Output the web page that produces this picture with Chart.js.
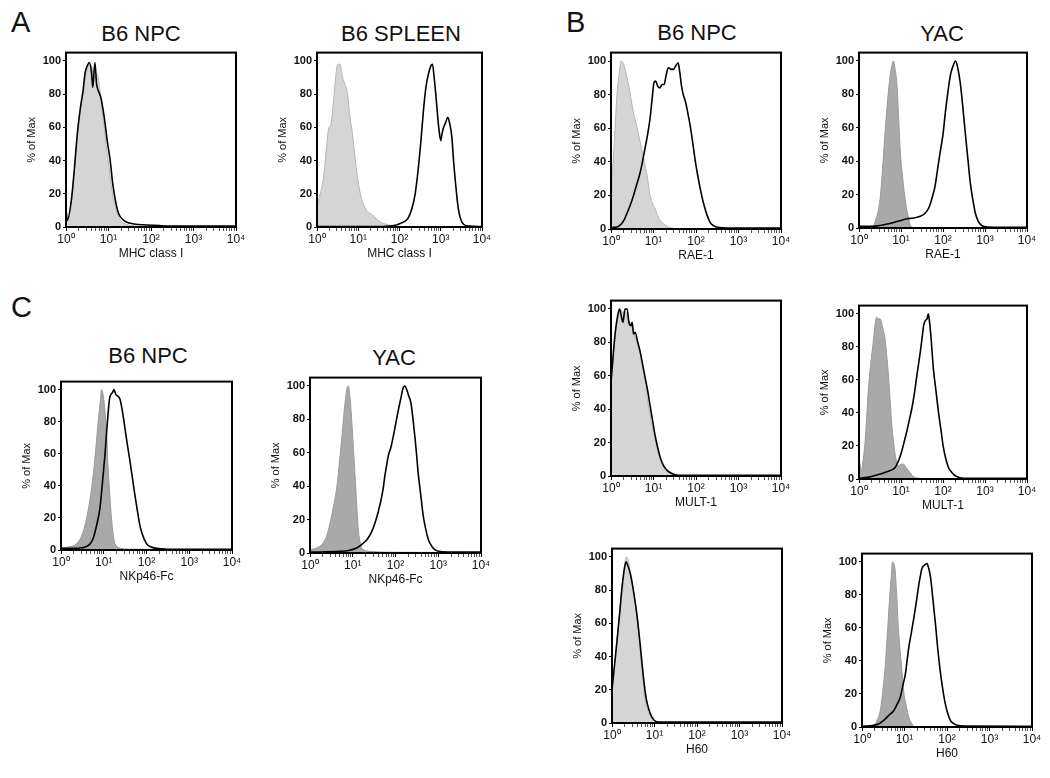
<!DOCTYPE html>
<html><head><meta charset="utf-8">
<script src="https://cdn.jsdelivr.net/npm/chart.js@4/dist/chart.umd.min.js"></script>
<style>
html,body{margin:0;padding:0;background:#fff}
body{width:1050px;height:778px;position:relative;overflow:hidden;font-family:'Liberation Sans',Arial,sans-serif}
.t{position:absolute;color:#111;white-space:nowrap;line-height:1}
canvas{position:absolute}
</style></head><body>
<script>
// ---- tick labels / axis text ----
const xTickDecades = [0, 1, 2, 3, 4];
const xTickLabels = ['10⁰', '10¹', '10²', '10³', '10⁴'];
const yTicks = [0, 20, 40, 60, 80, 100];
const yAxisTitle = '% of Max';
const markerNames = ['MHC class I', 'MHC class I', 'RAE-1', 'RAE-1', 'NKp46-Fc', 'NKp46-Fc', 'MULT-1', 'MULT-1', 'H60', 'H60'];
const sampleNames = ['B6 NPC', 'B6 SPLEEN', 'B6 NPC', 'YAC', 'B6 NPC', 'YAC'];
const panelLetters = ['A', 'B', 'C'];

// ---- series: [log10 fluorescence, % of max] ----
const a1Gray = [[0,9],[0.04,4],[0.13,16],[0.2,35],[0.27,56],[0.34,70],[0.4,80],[0.47,92],[0.53,98],[0.6,97],[0.66,90],[0.73,92],[0.8,82],[0.88,64],[0.96,46],[1.02,34],[1.08,22],[1.15,13],[1.22,7],[1.3,3.5],[1.4,1.8],[1.6,0.6],[1.9,0],[4,0]];
const a1Line = [[0,11],[0.03,4],[0.13,17],[0.2,36],[0.27,57],[0.34,72],[0.4,82],[0.45,93],[0.5,97],[0.55,99],[0.6,93],[0.63,84],[0.68,99],[0.72,86],[0.76,82],[0.82,78],[0.9,66],[0.97,52],[1.04,40],[1.1,26],[1.17,15],[1.24,8],[1.32,5],[1.42,3],[1.6,1.8],[1.9,1.2],[2.2,0.8],[2.6,0.5],[4,0.5]];
const a2Gray = [[0,12],[0.08,20],[0.16,30],[0.22,45],[0.28,59],[0.34,62],[0.4,76],[0.46,92],[0.5,98],[0.56,98],[0.62,90],[0.68,86],[0.74,80],[0.8,66],[0.86,56],[0.92,42],[0.98,30],[1.05,20],[1.12,14],[1.2,10],[1.3,8],[1.4,6],[1.53,3],[1.7,1.5],[1.9,0.4],[2.1,0],[4,0]];
const a2Line = [[0,0.3],[1.6,0.3],[1.9,1],[2.0,2],[2.1,3],[2.2,5],[2.3,11],[2.38,20],[2.45,34],[2.52,52],[2.58,70],[2.64,84],[2.7,92],[2.76,97],[2.8,98],[2.84,90],[2.88,80],[2.92,68],[2.96,58],[3.0,52],[3.03,56],[3.07,60],[3.12,63],[3.17,66],[3.22,62],[3.27,54],[3.31,40],[3.36,26],[3.42,12],[3.48,5],[3.56,1.5],[3.7,0.5],[4,0.3]];
const b1Gray = [[0,4],[0.03,30],[0.09,57],[0.14,80],[0.19,92],[0.24,100],[0.3,98],[0.36,92],[0.42,85],[0.48,76],[0.54,68],[0.6,62],[0.66,55],[0.72,48],[0.8,38],[0.86,30],[0.92,20],[0.98,15],[1.04,12],[1.1,8],[1.16,5],[1.24,3],[1.32,1.5],[1.45,0.5],[1.6,0],[4,0]];
const b1Line = [[0,1],[0.1,1],[0.2,2],[0.3,5],[0.37,9],[0.45,14],[0.53,20],[0.6,26],[0.68,33],[0.74,40],[0.8,48],[0.86,56],[0.92,66],[0.97,78],[1.01,87],[1.05,88],[1.1,85],[1.15,84],[1.2,86],[1.25,86],[1.3,92],[1.35,96],[1.42,95],[1.47,95],[1.52,97],[1.58,99],[1.62,93],[1.66,85],[1.7,80],[1.75,76],[1.8,70],[1.86,62],[1.92,52],[1.98,41],[2.04,32],[2.1,24],[2.17,16],[2.25,9],[2.33,4],[2.41,2],[2.55,0.8],[3,0.5],[4,0.5]];
const b2Gray = [[0,0],[0.3,0],[0.4,5],[0.5,17],[0.56,35],[0.62,57],[0.68,76],[0.74,91],[0.79,98],[0.82,100],[0.86,95],[0.9,87],[0.94,68],[0.98,47],[1.04,30],[1.1,17],[1.16,8],[1.22,2],[1.28,0],[4,0]];
const b2Line = [[0,1],[0.3,1],[0.5,1.5],[0.7,2.5],[0.85,3.5],[1.0,4.5],[1.14,5.5],[1.3,6],[1.46,7],[1.58,9],[1.66,12],[1.74,18],[1.81,25],[1.87,35],[1.93,45],[2.0,56],[2.06,70],[2.12,82],[2.18,92],[2.24,97],[2.3,100],[2.35,96],[2.41,87],[2.47,73],[2.53,57],[2.59,42],[2.65,27],[2.71,17],[2.77,9],[2.84,4],[2.92,1.5],[3.05,0.6],[4,0.4]];
const c1Gray = [[0,1],[0.2,2],[0.37,4],[0.5,10],[0.6,20],[0.68,32],[0.75,46],[0.81,62],[0.87,80],[0.92,93],[0.95,100],[0.99,96],[1.03,86],[1.07,70],[1.1,52],[1.14,35],[1.18,20],[1.22,10],[1.26,4],[1.32,2],[1.4,1],[1.6,0.5],[4,0.3]];
const c1Line = [[0,1],[0.3,1],[0.52,1.6],[0.65,3],[0.75,7],[0.83,15],[0.91,26],[0.97,42],[1.03,60],[1.08,78],[1.14,95],[1.2,98],[1.24,100],[1.28,97],[1.33,96],[1.38,94],[1.44,86],[1.49,77],[1.55,66],[1.61,56],[1.67,45],[1.73,34],[1.79,24],[1.84,16],[1.9,10],[2.0,4],[2.1,2],[2.23,1],[2.5,0.5],[4,0.5]];
const c2Gray = [[0,2],[0.15,3],[0.31,6],[0.4,11],[0.47,18],[0.55,28],[0.62,38],[0.68,52],[0.74,68],[0.8,85],[0.86,98],[0.9,100],[0.94,92],[0.97,82],[1.01,65],[1.05,48],[1.09,30],[1.13,14],[1.17,7],[1.21,3],[1.3,1.5],[1.4,1],[1.8,0.5],[4,0.3]];
const c2Line = [[0,0.5],[0.7,1],[0.9,1.5],[1.09,3],[1.2,5],[1.33,8],[1.43,12],[1.52,18],[1.6,25],[1.68,34],[1.72,40],[1.75,46],[1.79,52],[1.83,58],[1.89,63],[1.95,70],[2.01,78],[2.07,86],[2.12,92],[2.18,99],[2.22,100],[2.26,98],[2.31,94],[2.36,90],[2.41,80],[2.46,68],[2.5,57],[2.53,48],[2.59,35],[2.65,22],[2.71,14],[2.77,8],[2.85,4],[2.92,2],[3.05,0.8],[3.3,0.5],[4,0.5]];
const bm1Gray = [[0,56],[0.05,70],[0.1,84],[0.16,94],[0.22,100],[0.28,98],[0.34,98],[0.4,94],[0.45,92],[0.53,86],[0.61,80],[0.69,72],[0.77,62],[0.83,52],[0.88,42],[0.94,34],[1.0,26],[1.06,19],[1.12,13],[1.2,7],[1.28,3.4],[1.37,1.5],[1.47,0.4],[1.6,0],[4,0]];
const bm1Line = [[0,56],[0.05,72],[0.1,86],[0.15,95],[0.2,100],[0.24,96],[0.28,92],[0.33,100],[0.38,100],[0.42,92],[0.47,90],[0.5,92],[0.53,85],[0.57,86],[0.63,80],[0.69,74],[0.75,66],[0.81,58],[0.87,50],[0.92,42],[0.98,33],[1.04,24],[1.1,17],[1.16,11],[1.24,6],[1.32,3.4],[1.41,1.8],[1.51,0.8],[1.7,0.4],[4,0.4]];
const bm2Gray = [[0,13],[0.03,8],[0.06,5],[0.1,12],[0.14,21],[0.18,36],[0.22,53],[0.28,70],[0.34,83],[0.39,95],[0.42,98],[0.46,97],[0.5,97],[0.56,92],[0.62,85],[0.66,75],[0.7,63],[0.74,48],[0.78,33],[0.82,23],[0.86,15],[0.9,10],[0.94,8],[1.0,9],[1.06,9],[1.12,7],[1.18,5],[1.24,3],[1.3,1.4],[1.4,0.5],[1.6,0],[4,0]];
const bm2Line = [[0,0.4],[0.2,1],[0.42,2.4],[0.66,4.4],[0.86,7],[0.94,11],[1.02,17],[1.08,23],[1.14,29],[1.2,36],[1.26,43],[1.32,52],[1.38,63],[1.42,70],[1.46,77],[1.5,85],[1.54,93],[1.58,96],[1.62,97],[1.65,100],[1.68,95],[1.72,84],[1.77,67],[1.83,54],[1.89,41],[1.95,30],[2.01,19],[2.07,12],[2.13,7],[2.21,4],[2.29,2],[2.4,0.8],[2.6,0.4],[4,0.4]];
const bb1Gray = [[0,20],[0.06,35],[0.12,51],[0.18,67],[0.23,81],[0.28,92],[0.34,100],[0.39,97],[0.43,91],[0.47,85],[0.53,75],[0.59,65],[0.63,54],[0.67,41],[0.72,28],[0.78,14],[0.84,8],[0.9,4],[0.96,2],[1.02,1],[1.15,0],[4,0]];
const bb1Line = [[0,20],[0.06,35],[0.12,50],[0.18,66],[0.23,80],[0.28,91],[0.33,97],[0.37,95],[0.43,90],[0.49,82],[0.55,72],[0.61,60],[0.66,48],[0.71,35],[0.76,23],[0.81,14],[0.87,8],[0.93,4],[1.0,1.5],[1.1,0.6],[4,0.5]];
const bb2Gray = [[0,0],[0.27,0],[0.35,4],[0.43,10],[0.49,22],[0.55,38],[0.6,58],[0.65,78],[0.69,92],[0.72,100],[0.76,98],[0.78,95],[0.82,78],[0.86,58],[0.92,40],[0.98,22],[1.04,13],[1.1,6],[1.16,2.5],[1.22,0.4],[1.3,0],[4,0]];
const bb2Line = [[0,0.4],[0.27,1],[0.4,2],[0.51,4],[0.63,7],[0.75,10],[0.83,14],[0.9,18],[0.96,25],[1.02,32],[1.06,40],[1.1,48],[1.16,57],[1.22,66],[1.28,76],[1.33,85],[1.37,91],[1.41,96],[1.47,98],[1.53,99],[1.57,96],[1.61,91],[1.67,77],[1.73,62],[1.78,48],[1.84,34],[1.9,23],[1.96,14],[2.02,8],[2.08,4],[2.16,2],[2.24,1],[2.4,0.5],[4,0.4]];

// ---- layout (plot box: left, top, right, bottom) ----
const LIGHT = {fill:'#d5d5d5', edge:'#b5b5b5'};
const DARK = {fill:'#a9a9a9', edge:'#999999'};
const panels = [
  {box:[66,52,236,227],  gray:a1Gray,  line:a1Line,  tone:LIGHT, xt:markerNames[0]},
  {box:[317,52,482,227], gray:a2Gray,  line:a2Line,  tone:LIGHT, xt:markerNames[1]},
  {box:[611,52,781,229], gray:b1Gray,  line:b1Line,  tone:LIGHT, xt:markerNames[2]},
  {box:[859,52,1027,228],gray:b2Gray,  line:b2Line,  tone:DARK,  xt:markerNames[3]},
  {box:[61,381,232,550], gray:c1Gray,  line:c1Line,  tone:DARK,  xt:markerNames[4]},
  {box:[310,377,481,553],gray:c2Gray,  line:c2Line,  tone:DARK,  xt:markerNames[5]},
  {box:[611,300,781,476],gray:bm1Gray, line:bm1Line, tone:LIGHT, xt:markerNames[6]},
  {box:[859,305,1027,479],gray:bm2Gray,line:bm2Line, tone:DARK,  xt:markerNames[7]},
  {box:[612,548,782,723],gray:bb1Gray, line:bb1Line, tone:LIGHT, xt:markerNames[8]},
  {box:[862,553,1032,727],gray:bb2Gray,line:bb2Line, tone:DARK,  xt:markerNames[9]}
];
const texts = [
  {s:panelLetters[0], x:11,  base:33,  size:29, c:false},
  {s:panelLetters[1], x:566, base:33,  size:29, c:false},
  {s:panelLetters[2], x:11,  base:318, size:29, c:false},
  {s:sampleNames[0],  x:141, base:42,  size:22, c:true},
  {s:sampleNames[1],  x:401, base:42,  size:22, c:true},
  {s:sampleNames[2],  x:697, base:41,  size:22, c:true},
  {s:sampleNames[3],  x:942, base:42,  size:22, c:true},
  {s:sampleNames[4],  x:148, base:364, size:22, c:true},
  {s:sampleNames[5],  x:394, base:366, size:22, c:true}
];

texts.forEach(t => {
  const d = document.createElement('div');
  d.className = 't';
  d.textContent = t.s;
  d.style.fontSize = t.size + 'px';
  d.style.top = (t.base - 0.8465 * t.size) + 'px';
  d.style.left = t.x + 'px';
  if (t.c) d.style.transform = 'translateX(-50%)';
  document.body.appendChild(d);
});

const YW = 41, XH = 34, PT = 8, PR = 12;
const frame = {
  id: 'frame',
  afterDraw(chart) {
    const a = chart.chartArea, ctx = chart.ctx;
    ctx.save();
    ctx.strokeStyle = '#000';
    ctx.lineWidth = 2;
    ctx.strokeRect(a.left, a.top, a.right - a.left, a.bottom - a.top);
    ctx.restore();
  }
};
const decadeVals = xTickDecades.map(d => Math.pow(10, d));
const minorVals = [];
for (let k = 0; k < 4; k++) for (let m = 2; m <= 9; m++) minorVals.push(m * Math.pow(10, k));
const toPts = arr => arr.map(p => ({x: Math.pow(10, p[0]), y: p[1]}));

panels.forEach(p => {
  const [L, T, R, B] = p.box;
  const cv = document.createElement('canvas');
  const w = (R - L) + YW + PR, h = (B - T) + PT + XH;
  cv.width = w; cv.height = h;
  cv.style.width = w + 'px'; cv.style.height = h + 'px';
  cv.style.left = (L - YW) + 'px'; cv.style.top = (T - PT) + 'px';
  document.body.appendChild(cv);
  new Chart(cv, {
    type: 'line',
    data: {datasets: [
      {data: toPts(p.line), borderColor: '#000', borderWidth: 1.6, fill: false, pointRadius: 0, cubicInterpolationMode: 'monotone'},
      {data: toPts(p.gray), borderColor: p.tone.edge, borderWidth: 1, backgroundColor: p.tone.fill, fill: 'origin', pointRadius: 0, cubicInterpolationMode: 'monotone'}
    ]},
    options: {
      responsive: false, animation: false, devicePixelRatio: 1,
      layout: {padding: {left: 0, top: PT, right: PR, bottom: 0}},
      plugins: {legend: {display: false}, tooltip: {enabled: false}},
      scales: {
        x: {
          type: 'logarithmic', min: 1, max: 10000,
          afterBuildTicks: s => { s.ticks = decadeVals.map(v => ({value: v, major: true})).concat(minorVals.map(v => ({value: v, major: false}))).sort((a, b) => a.value - b.value); },
          afterFit: s => { s.height = XH; },
          grid: {display: true, drawOnChartArea: false, drawTicks: true, tickLength: 4, tickColor: c => (c.tick && c.tick.major) ? '#000' : '#555', tickWidth: 1},
          border: {display: true, color: '#000', width: 2},
          ticks: {autoSkip: false, maxRotation: 0, padding: 1, color: '#111', font: {family: 'Liberation Sans', size: 12},
            callback: v => { const i = decadeVals.findIndex(d => Math.abs(d - v) < 1e-6); return i >= 0 ? xTickLabels[i] : ''; }},
          title: {display: true, text: p.xt, color: '#111', padding: 0, font: {family: 'Liberation Sans', size: 12}}
        },
        y: {
          type: 'linear', min: 0, max: 105,
          afterBuildTicks: s => { s.ticks = yTicks.map(v => ({value: v})); },
          afterFit: s => { s.width = YW; },
          grid: {display: true, drawOnChartArea: false, drawTicks: true, tickLength: 3, tickColor: '#000'},
          border: {display: true, color: '#000', width: 2},
          ticks: {padding: 2, color: '#111', font: {family: 'Liberation Sans', size: 11, weight: 'bold'}},
          title: {display: true, text: yAxisTitle, color: '#111', padding: 0, font: {family: 'Liberation Sans', size: 11}}
        }
      }
    },
    plugins: [frame]
  });
});
</script>
</body></html>
